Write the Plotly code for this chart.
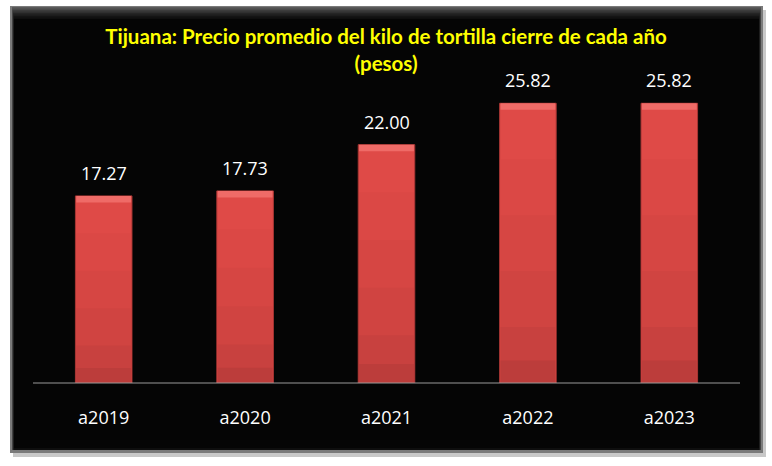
import plotly.graph_objects as go

categories = ["a2019", "a2020", "a2021", "a2022", "a2023"]
values = [17.27, 17.73, 22.00, 25.82, 25.82]
labels = ["17.27", "17.73", "22.00", "25.82", "25.82"]
title_text = "Tijuana: Precio promedio del kilo de tortilla cierre de cada año<br>(pesos)"

W, H = 772, 466
ML, MR, MT, MB = 33, 32, 58, 83
PW, PH = W - ML - MR, H - MT - MB

def px(x):
    return (x - ML) / PW

def py(y):
    return (H - MB - y) / PH

fig = go.Figure()

BW = 0.4
fig.add_trace(go.Bar(x=categories, y=values, width=BW, marker=dict(color="#DF4A47", line=dict(color="#A83634", width=1)),
                     hoverinfo="skip", showlegend=False))
grad = [(0.8, "#DB4845"), (0.6, "#D64643"), (0.4, "#D04441"), (0.2, "#C8413F"), (0.08, "#BC3D3B")]
for frac, col in grad:
    fig.add_trace(go.Bar(x=categories, y=[v * frac for v in values], width=BW - 0.012,
                         marker=dict(color=col, line=dict(width=0)), hoverinfo="skip", showlegend=False))
fig.add_trace(go.Bar(x=categories, y=[0.6] * len(values), base=[v - 0.6 for v in values], width=BW - 0.012,
                     marker=dict(color="#EF6B67", line=dict(width=0)), hoverinfo="skip", showlegend=False))

annotations = []
for c, v, t in zip(categories, values, labels):
    annotations.append(dict(x=c, y=v, text=t, showarrow=False, yanchor="bottom", yshift=9,
                            font=dict(color="white", size=18, family="Open Sans")))

shapes = []
shapes.append(dict(type="rect", xref="paper", yref="paper", x0=px(13), x1=px(766), y0=py(457), y1=py(10),
                   fillcolor="#C8C8C8", line=dict(width=0), layer="below"))
shapes.append(dict(type="rect", xref="paper", yref="paper", x0=px(10), x1=px(763), y0=py(453), y1=py(6),
                   fillcolor="#7A7A7A", line=dict(width=0), layer="below"))
greys = ["#5A5A5A", "#4A4A4A", "#3C3C3C", "#303030", "#252525", "#1C1C1C", "#141414", "#0E0E0E"]
for i, g in enumerate(greys):
    shapes.append(dict(type="rect", xref="paper", yref="paper", x0=px(12 + i * 0.3), x1=px(761 - i * 0.3),
                       y0=py(450), y1=py(7 + i * 1.5), fillcolor=g, line=dict(width=0), layer="below"))
shapes.append(dict(type="rect", xref="paper", yref="paper", x0=px(14), x1=px(759), y0=py(448), y1=py(19),
                   fillcolor="#050505", line=dict(width=0), layer="below"))
shapes.append(dict(type="line", xref="paper", yref="paper", x0=0, x1=1, y0=0, y1=0,
                   line=dict(color="#9A9A9A", width=1)))

fig.update_layout(
    width=W, height=H,
    margin=dict(l=ML, r=MR, t=MT, b=MB, autoexpand=False),
    paper_bgcolor="white", plot_bgcolor="rgba(0,0,0,0)",
    barmode="overlay", bargap=0.6,
    shapes=shapes, annotations=annotations,
    title=dict(text=title_text, x=0.5, xanchor="center", y=1 - 44 / H, yanchor="top",
               font=dict(color="#FFFF00", size=20.5, family="Lato", weight="bold")),
    xaxis=dict(showgrid=False, zeroline=False, showline=False, ticks="", automargin=False,
               tickfont=dict(color="white", size=18, family="Open Sans"), ticklabelstandoff=22),
    yaxis=dict(range=[0, 30], visible=False, showgrid=False, zeroline=False, automargin=False),
    font=dict(color="white"),
)

fig.write_html("out.html", config={"displayModeBar": False},
               post_script="document.body.style.margin='0';document.body.style.padding='0';")
